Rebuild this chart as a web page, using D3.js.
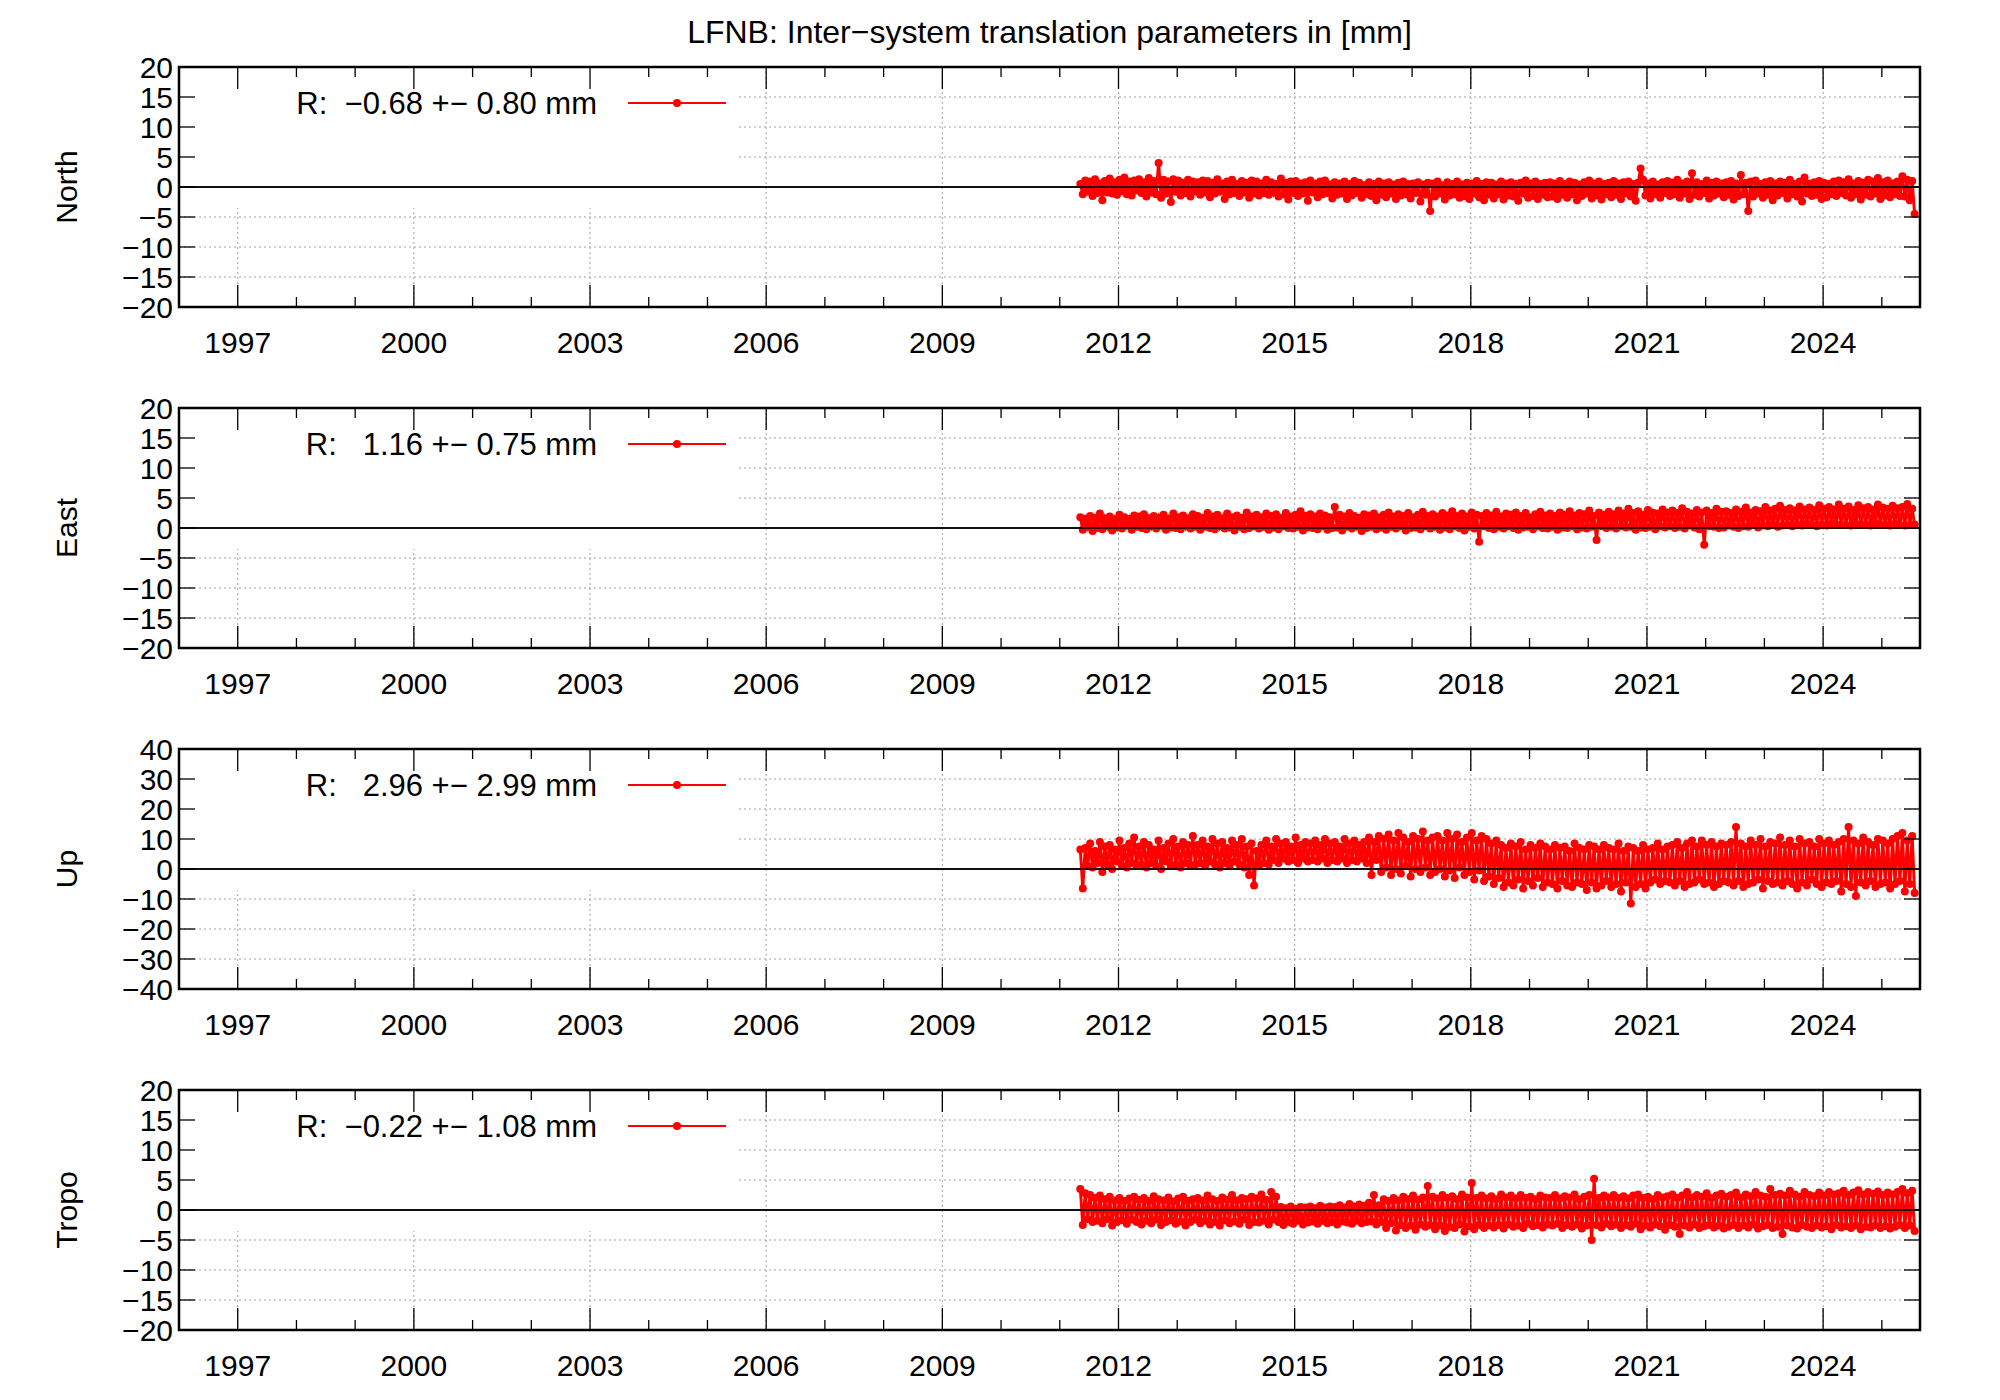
<!DOCTYPE html>
<html><head><meta charset="utf-8">
<script src="https://cdn.jsdelivr.net/npm/d3@7"></script>
<style>body{margin:0;background:#fff}</style></head>
<body><svg id="c" width="2000" height="1400"></svg>
<script>
const title = "LFNB: Inter\u2212system translation parameters in [mm]";
const panelNames = ["North","East","Up","Tropo"];
const legendTexts = ["R:  \u22120.68 +\u2212 0.80 mm","R:   1.16 +\u2212 0.75 mm","R:   2.96 +\u2212 2.99 mm","R:  \u22120.22 +\u2212 1.08 mm"];
const yLimits = [20,20,40,20];
const yStepsTick = [5,5,10,5];
const xTickYears = [1997,2000,2003,2006,2009,2012,2015,2018,2021,2024];
const startYear = 2011.35, stepYear = 1/24;

const north = [0.5,-1.2,1.1,-0.8,0.9,-1.5,1.3,-1.0,0.6,-2.2,1.0,-0.9,1.4,-1.1,0.8,-1.3,1.2,-0.7,1.6,-1.2,0.9,-1.4,1.1,-0.6,
1.3,-1.0,0.8,-1.6,1.5,-0.9,1.0,-1.2,4.0,-1.8,1.2,-1.1,0.9,-2.5,1.3,-0.8,1.1,-1.4,0.7,-1.0,1.2,-1.6,0.9,-0.7,
0.8,-1.3,1.1,-0.9,1.0,-1.7,0.7,-1.1,1.3,-0.8,0.6,-2.0,0.9,-1.2,1.2,-1.0,0.5,-1.5,1.0,-0.9,0.7,-1.8,1.1,-1.1,
0.9,-1.4,0.6,-1.0,1.2,-1.3,0.8,-0.9,0.5,-1.6,1.4,-1.2,0.7,-2.1,0.9,-1.0,1.0,-1.5,0.6,-1.1,0.8,-2.3,1.1,-0.9,
0.6,-1.7,0.9,-1.2,1.1,-1.0,0.4,-1.9,0.8,-1.3,0.6,-1.1,0.9,-2.0,0.5,-1.4,1.0,-1.0,0.7,-1.8,0.3,-1.2,0.8,-1.5,
0.5,-2.2,0.9,-1.3,0.6,-1.7,0.8,-1.1,0.4,-2.0,0.7,-1.4,0.9,-1.2,0.5,-1.9,0.6,-1.0,0.8,-2.4,0.4,-1.3,0.7,-4.0,
0.6,-1.6,0.9,-1.1,0.3,-2.1,0.8,-1.4,0.5,-1.2,0.9,-1.8,0.4,-1.5,0.7,-2.0,0.6,-1.1,1.0,-1.7,0.5,-2.2,0.8,-1.3,
0.7,-1.9,0.4,-1.2,0.9,-2.1,0.6,-1.4,0.8,-1.6,0.5,-2.3,0.7,-1.1,1.1,-1.8,0.6,-1.5,0.9,-2.0,0.5,-1.3,0.7,-1.7,
0.8,-1.6,0.6,-2.0,1.0,-1.3,0.5,-1.8,0.9,-1.2,0.7,-2.2,0.4,-1.5,0.8,-1.1,1.1,-1.9,0.6,-1.4,0.9,-2.1,0.5,-1.2,
0.7,-1.7,1.0,-1.3,0.6,-2.0,0.8,-1.1,0.9,-1.6,0.5,-2.3,0.7,3.1,1.2,-1.4,0.6,-1.9,0.9,-1.2,0.4,-1.8,0.8,-1.0,
1.0,-1.5,0.7,-1.2,1.2,-1.8,0.6,-1.1,0.9,-2.0,2.3,-1.3,0.8,-1.6,0.5,-1.0,1.1,-1.9,0.7,-1.4,0.9,-1.1,0.6,-1.7,
0.8,-1.3,1.0,-2.1,0.6,-1.5,2.0,-1.2,0.7,-4.0,0.9,-1.6,1.1,-1.1,0.5,-1.8,0.8,-1.3,1.0,-2.2,0.6,-1.4,0.9,-1.0,
0.7,-1.9,1.2,-1.2,0.5,-1.6,0.9,-2.4,1.6,-1.1,0.6,-1.5,0.8,-1.3,1.0,-2.0,0.7,-1.7,0.5,-1.2,0.9,-1.5,1.1,-1.0,
0.8,-1.4,1.3,-1.8,0.6,-1.2,1.0,-2.1,0.7,-1.3,1.2,-1.6,0.9,-1.1,1.5,-2.0,0.8,-1.4,1.1,-1.7,0.6,-1.2,0.9,-1.5,
1.8,-1.6,1.2,-2.2,1.0,-4.5];

const east = [1.8,-0.3,1.5,0.2,2.0,-0.5,1.7,0.0,2.4,-0.2,1.6,0.3,1.9,-0.4,1.4,0.1,2.2,-0.1,1.8,0.4,1.5,-0.3,2.1,0.2,
1.9,0.0,2.3,-0.2,1.6,0.3,2.0,-0.1,1.7,0.4,2.2,-0.3,1.5,0.1,2.4,0.0,1.8,-0.2,2.1,0.3,1.6,-0.1,2.3,0.2,
2.0,-0.3,1.7,0.2,2.5,0.0,1.9,-0.2,2.2,0.3,1.6,-0.1,2.4,0.1,1.8,-0.4,2.1,0.2,1.7,-0.2,2.6,0.0,1.9,0.3,
2.2,-0.1,1.8,0.2,2.4,-0.3,2.0,0.1,2.3,-0.2,1.7,0.3,2.5,0.0,1.9,-0.1,2.2,0.2,2.8,-0.4,2.0,0.1,2.3,0.0,
1.9,-0.2,2.4,0.3,2.1,-0.3,1.8,0.0,3.5,0.1,2.2,-0.4,1.9,0.2,2.5,-0.1,2.0,0.3,1.7,-0.5,2.3,0.0,2.1,0.2,
2.4,-0.2,1.8,0.1,2.2,-0.3,2.6,0.2,1.9,-0.1,2.3,0.3,2.0,-0.4,2.5,0.0,1.8,0.1,2.2,-0.2,2.7,0.3,2.0,-0.1,
2.3,0.2,1.9,-0.3,2.5,0.1,2.1,-0.2,2.8,0.3,2.0,0.0,2.4,-0.4,1.9,0.2,2.6,-0.1,2.2,-2.3,2.0,0.3,2.5,0.0,
2.1,-0.2,2.7,0.2,1.9,-0.1,2.4,0.3,2.2,0.0,2.6,-0.3,2.0,0.1,2.5,0.2,1.8,-0.2,2.3,0.3,2.7,0.0,2.1,-0.1,
2.4,0.2,2.0,-0.3,2.6,0.1,2.2,0.0,2.8,0.3,2.1,-0.2,2.5,0.1,2.3,-0.1,2.9,0.2,2.0,-2.0,2.6,0.3,2.2,0.0,
2.7,0.2,2.3,-0.1,2.9,0.3,2.4,0.1,3.2,0.2,2.5,-0.3,2.8,0.1,2.2,0.0,3.0,0.2,2.6,-0.2,2.4,0.3,3.1,0.1,
2.6,0.3,2.9,0.0,2.5,0.2,3.3,-0.1,2.7,0.4,2.4,0.1,3.0,-0.2,2.6,-2.8,2.9,0.3,2.5,0.2,3.2,0.0,2.7,0.1,
2.8,0.4,2.5,0.2,3.1,0.0,2.7,0.3,3.4,0.2,2.6,0.5,3.0,0.1,2.8,0.4,3.5,0.3,2.9,0.6,3.2,0.2,3.7,0.4,
3.0,0.5,3.3,0.3,2.9,0.6,3.6,0.4,3.1,0.7,3.4,0.5,3.0,0.3,3.8,0.6,3.2,0.4,3.5,0.7,3.1,0.5,3.9,0.6,
3.2,0.5,3.6,0.4,3.0,0.7,3.8,0.5,3.3,0.6,3.5,0.4,3.1,0.8,3.9,0.5,3.4,0.6,3.2,0.4,3.7,0.7,3.3,0.5,
3.5,0.4,4.0,0.5,3.2,0.6];

const up = [6.5,-6.5,7.0,1.0,8.5,0.5,6.0,2.0,9.0,-1.0,7.5,1.5,8.0,0.0,6.5,2.5,9.5,1.0,7.0,0.5,8.5,2.0,10.5,1.0,
7.5,1.5,9.0,0.5,8.0,2.0,6.5,1.0,9.5,0.0,7.0,2.5,8.5,1.0,10.0,1.5,7.5,0.5,9.0,2.0,8.0,1.0,11.0,1.5,
8.0,2.0,9.5,1.0,7.5,2.5,10.0,1.5,8.5,0.5,9.0,2.0,7.0,1.0,9.5,2.5,8.0,1.5,10.0,0.5,7.5,-2.0,8.5,-5.5,
6.0,1.0,8.0,2.0,9.5,1.5,7.5,3.0,10.0,2.0,8.5,3.5,9.0,2.5,7.5,3.0,10.5,2.0,8.0,3.5,9.0,2.5,8.5,3.0,
9.5,2.5,8.0,3.5,10.0,2.0,8.5,3.0,9.0,2.5,7.5,3.5,10.0,2.0,8.5,3.0,9.5,2.5,8.0,3.5,9.0,2.0,10.5,-2.0,
9.0,3.0,11.0,-1.0,10.0,0.5,11.5,-2.0,9.5,0.0,12.0,-1.5,10.5,1.0,9.0,-2.5,11.0,0.0,10.0,-1.0,12.5,0.5,9.5,-2.0,
10.5,-1.0,11.0,0.0,9.5,-2.5,12.0,-0.5,10.0,-3.0,11.5,0.5,9.0,-2.0,10.5,-1.0,12.0,-3.5,9.5,-0.5,11.0,-4.0,10.0,-2.5,
8.5,-5.0,9.5,-3.0,8.0,-6.0,7.0,-4.5,8.5,-5.5,7.5,-3.5,9.0,-6.5,6.5,-4.0,8.0,-5.5,7.0,-3.0,8.5,-6.0,7.5,-4.5,
6.5,-5.0,8.0,-6.5,7.0,-4.0,7.5,-5.5,6.0,-6.0,8.5,-4.5,7.0,-5.0,6.5,-7.0,8.0,-4.5,7.5,-6.5,6.5,-5.5,8.0,-4.0,
7.0,-6.0,6.5,-5.0,8.5,-7.5,6.0,-4.5,7.5,-11.5,7.0,-6.0,6.0,-5.0,8.0,-6.5,6.5,-4.5,7.0,-3.5,8.5,-5.0,6.5,-4.0,
7.5,-4.5,8.0,-5.5,9.0,-4.0,7.0,-6.0,8.5,-5.0,9.5,-4.5,7.5,-3.5,9.5,-5.0,8.0,-4.5,9.0,-6.0,7.5,-5.0,8.5,-4.0,
8.0,-4.5,9.0,-5.5,14.0,-4.0,8.5,-6.0,7.5,-5.0,9.5,-4.5,8.0,-3.5,10.0,-6.5,7.5,-4.0,9.0,-5.0,8.5,-4.5,10.5,-5.5,
8.0,-4.0,9.5,-5.0,7.5,-6.5,10.0,-4.5,8.5,-5.5,9.0,-3.5,7.5,-5.0,10.0,-6.0,8.5,-4.5,9.5,-5.0,8.0,-4.0,9.0,-7.5,
10.0,-5.0,14.0,-6.0,9.5,-9.0,8.5,-4.5,10.5,-5.5,9.0,-4.0,8.0,-6.0,10.0,-5.0,9.5,-4.5,8.5,-6.5,10.0,-5.0,11.0,-4.0,
12.0,-7.5,9.5,-5.0,11.0,-8.0];

const tropo = [3.5,-2.5,2.8,-1.5,2.5,-2.0,2.0,-1.8,2.4,-2.2,1.8,-1.5,2.2,-2.6,1.6,-2.0,2.0,-1.7,1.5,-2.3,1.9,-1.6,2.2,-2.0,
1.7,-2.4,2.0,-1.8,1.5,-2.2,2.3,-1.6,1.8,-2.5,1.6,-2.0,2.1,-1.7,1.4,-2.3,1.9,-1.9,2.2,-2.6,1.5,-2.0,1.8,-1.6,
2.0,-2.2,1.6,-1.8,2.4,-2.4,1.8,-2.0,1.5,-2.6,2.1,-1.7,1.7,-2.2,2.5,-1.9,1.6,-2.3,2.0,-1.6,1.8,-2.5,2.2,-2.0,
1.9,-2.1,2.6,-1.8,1.7,-2.4,3.0,-1.6,2.2,-2.0,0.5,-2.5,0.3,-2.0,0.6,-2.3,0.2,-1.8,0.5,-2.4,0.4,-2.1,0.6,-1.9,
0.3,-2.3,0.7,-1.8,0.4,-2.2,0.6,-2.0,0.5,-2.4,0.8,-1.9,0.4,-2.1,1.0,-2.3,0.6,-1.8,0.9,-2.2,0.7,-2.0,1.2,-1.9,
2.5,-2.4,0.8,-2.0,1.8,-3.0,1.5,-2.2,2.0,-3.4,1.6,-2.5,2.2,-3.0,1.8,-2.6,2.4,-3.3,1.7,-2.4,2.1,-2.8,4.0,-2.5,
2.2,-3.2,1.9,-2.6,2.5,-3.5,2.0,-2.8,2.3,-3.0,1.8,-2.4,2.6,-3.6,2.1,-2.7,4.5,-3.2,2.0,-2.5,2.4,-3.0,1.9,-2.6,
2.3,-2.9,1.8,-2.5,2.6,-3.1,2.1,-2.4,2.4,-2.8,1.9,-2.6,2.5,-3.0,2.0,-2.3,2.2,-2.7,1.8,-2.5,2.4,-2.9,2.1,-2.4,
2.0,-2.6,2.5,-2.3,1.9,-3.0,2.3,-2.5,2.1,-2.8,2.6,-2.4,1.8,-3.1,2.2,-2.6,2.5,-5.0,5.2,-2.5,2.0,-2.9,2.4,-2.3,
2.1,-2.7,2.5,-2.4,2.0,-3.0,2.3,-2.5,1.9,-2.8,2.4,-2.3,2.6,-3.2,2.0,-2.6,2.2,-2.9,1.8,-2.4,2.5,-2.7,2.1,-3.3,
2.3,-2.5,2.6,-2.8,2.0,-4.0,2.4,-2.6,3.0,-2.9,2.1,-2.4,2.5,-3.0,2.2,-2.7,2.8,-2.5,2.0,-2.9,2.4,-2.6,2.7,-3.1,
2.2,-2.8,2.5,-2.5,2.9,-3.0,2.1,-2.6,2.6,-2.9,2.3,-2.4,3.0,-3.1,2.4,-2.7,2.2,-2.5,3.5,-3.0,2.5,-2.8,2.7,-4.0,
2.4,-2.6,3.2,-2.9,2.6,-3.1,2.2,-2.5,3.0,-2.8,2.5,-3.0,2.3,-2.6,2.9,-2.9,2.4,-2.7,3.0,-3.2,2.6,-2.5,2.8,-2.9,
3.2,-2.7,2.5,-3.0,2.9,-2.6,3.3,-3.2,2.6,-2.8,3.0,-2.9,2.7,-2.6,3.1,-3.0,2.5,-2.7,2.9,-3.1,2.6,-2.8,3.0,-2.5,
3.5,-3.0,2.8,-2.6,3.2,-3.5];

const seriesList = [north, east, up, tropo];

const svg = d3.select("#c");
const font = "'Liberation Sans Narrow', 'Liberation Sans', Arial, sans-serif";
const L = 179, R = 1920, tops = [67,408,749,1090], H = 240;
svg.append("text").attr("x",(L+R)/2).attr("y",43).attr("text-anchor","middle")
  .attr("font-family",font).attr("font-size",32).text(title);

const x = d3.scaleLinear().domain([1996.0,2025.65]).range([L,R]);
const minorYears = d3.range(1996,2026);

seriesList.forEach((vals,p)=>{
  const top = tops[p], lim = yLimits[p], st = yStepsTick[p];
  const y = d3.scaleLinear().domain([-lim,lim]).range([top+H, top]);
  const g = svg.append("g");
  const yt = d3.range(-lim, lim+0.001, st);
  g.selectAll(".gh").data(yt.filter(v=>v!==0 && Math.abs(v)!==lim)).enter().append("line")
    .attr("x1",L).attr("x2",R).attr("y1",d=>y(d)).attr("y2",d=>y(d))
    .attr("stroke","#a0a0a0").attr("stroke-width",1).attr("stroke-dasharray","2,3");
  g.selectAll(".gv").data(xTickYears).enter().append("line")
    .attr("x1",d=>x(d)).attr("x2",d=>x(d)).attr("y1",top).attr("y2",top+H)
    .attr("stroke","#a0a0a0").attr("stroke-width",1).attr("stroke-dasharray","2,3");
  g.append("rect").attr("x",L+1).attr("y",top+1).attr("width",738-L).attr("height",y(-lim*0.2)-top-4).attr("fill","#fff");
  g.append("line").attr("x1",L).attr("x2",R).attr("y1",y(0)).attr("y2",y(0)).attr("stroke","#000").attr("stroke-width",1.5);
  const pts = vals.map((v,i)=>[startYear+i*stepYear, v]);
  const clip = "clip"+p;
  svg.append("clipPath").attr("id",clip).append("rect").attr("x",L).attr("y",top).attr("width",R-L).attr("height",H);
  const dg = g.append("g").attr("clip-path",`url(#${clip})`);
  dg.append("path").datum(pts).attr("fill","none").attr("stroke","#ff0000").attr("stroke-width",3)
    .attr("d",d3.line().x(d=>x(d[0])).y(d=>y(d[1])));
  dg.selectAll("circle").data(pts).enter().append("circle")
    .attr("cx",d=>x(d[0])).attr("cy",d=>y(d[1])).attr("r",4).attr("fill","#ff0000");
  g.append("line").attr("x1",L).attr("x2",R).attr("y1",y(0)).attr("y2",y(0)).attr("stroke","#000").attr("stroke-width",1.5);
  g.append("rect").attr("x",L).attr("y",top).attr("width",R-L).attr("height",H)
    .attr("fill","none").attr("stroke","#000").attr("stroke-width",2.5);
  const tk = g.append("g").attr("stroke","#000").attr("stroke-width",1.3);
  yt.forEach(v=>{
    tk.append("line").attr("x1",L).attr("x2",L+16).attr("y1",y(v)).attr("y2",y(v));
    tk.append("line").attr("x1",R).attr("x2",R-16).attr("y1",y(v)).attr("y2",y(v));
  });
  minorYears.forEach(yr=>{
    const len = xTickYears.includes(yr)?22:10;
    tk.append("line").attr("x1",x(yr)).attr("x2",x(yr)).attr("y1",top+H).attr("y2",top+H-len);
    tk.append("line").attr("x1",x(yr)).attr("x2",x(yr)).attr("y1",top).attr("y2",top+len);
  });
  g.selectAll(".yl").data(yt).enter().append("text")
    .attr("x",L-6).attr("y",d=>y(d)+11).attr("text-anchor","end")
    .attr("font-family",font).attr("font-size",30).text(d=>d<0?"\u2212"+(-d):d);
  g.selectAll(".xl").data(xTickYears).enter().append("text")
    .attr("x",d=>x(d)).attr("y",top+H+46).attr("text-anchor","middle")
    .attr("font-family",font).attr("font-size",30).text(d=>d);
  g.append("text").attr("transform",`translate(77,${top+H/2}) rotate(-90)`).attr("text-anchor","middle")
    .attr("font-family",font).attr("font-size",30).text(panelNames[p]);
  const ly = y(lim*0.7);
  g.append("text").attr("x",597).attr("y",ly+11).attr("text-anchor","end")
    .attr("font-family",font).attr("font-size",31).style("white-space","pre").text(legendTexts[p]);
  g.append("line").attr("x1",628).attr("x2",726).attr("y1",ly).attr("y2",ly).attr("stroke","#ff0000").attr("stroke-width",2);
  g.append("circle").attr("cx",677).attr("cy",ly).attr("r",4).attr("fill","#ff0000");
});
</script></body></html>
